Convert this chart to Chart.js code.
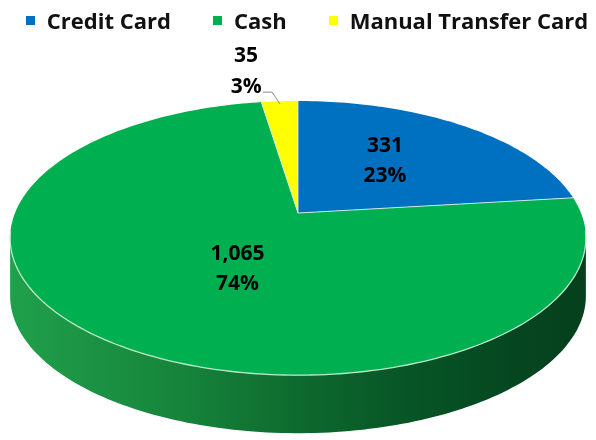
<!DOCTYPE html>
<html>
<head>
<meta charset="utf-8">
<script src="https://cdn.jsdelivr.net/npm/chart.js@4.4.1/dist/chart.umd.min.js"></script>
<style>
  body { margin: 0; background: #fff; }
  #wrap { position: relative; width: 596px; height: 440px; }
  #legend {
    position: absolute; top: 7px; left: 0; width: 596px; padding-left: 18px; box-sizing: border-box;
    display: flex; justify-content: center; gap: 42px;
    font: bold 22px "Open Sans", sans-serif; line-height: 26px; color: #111;
  }
  #legend .item { display: flex; align-items: center; white-space: nowrap; }
  #legend .box { width: 9px; height: 9px; margin-right: 12px; }
</style>
</head>
<body>
<div id="wrap">
  <canvas id="chart" width="596" height="440"></canvas>
  <div id="legend"></div>
</div>
<script>
const categories = ['Credit Card', 'Cash', 'Manual Transfer Card'];
const counts = [331, 1065, 35];
const pctLabels = ['23%', '74%', '3%'];
const sliceColors = ['#0070C0', '#00B050', '#FFFF00'];

// look of the tilted pie
const TILT = 0.183;   // perspective strength
const RX = 283;       // horizontal radius
const RY = 132.5;     // vertical radius
const DEPTH = 58;     // thickness of the side wall
const LABEL_FONT = 'bold 21px "Open Sans", sans-serif';
const LINE_GAP = 30;
// r = radial fraction for labels inside a slice, dx/dy a small nudge; outside = leader line
const labelPlacement = [
  { r: 0.53, dx: -6, dy: -3 },
  { r: 0.45, dx: 22, dy: 5 },
  { outside: true, r: 0.97 },
];

function rimPoint(cx, cy, a, r = 1) {
  const c = r * Math.cos(a), s = r * Math.sin(a);
  const d = 1 - TILT * s;
  return [cx + RX * c / d, cy + RY * s / d];
}

function tracePath(ctx, cx, cy, a0, a1, dy = 0, move = true) {
  const steps = Math.max(4, Math.ceil(Math.abs(a1 - a0) / 0.02));
  for (let i = 0; i <= steps; i++) {
    const [x, y] = rimPoint(cx, cy, a0 + (a1 - a0) * i / steps);
    if (i === 0 && move) ctx.moveTo(x, y + dy);
    else ctx.lineTo(x, y + dy);
  }
}

const pie3d = {
  id: 'pie3d',
  beforeDatasetsDraw(chart) {
    const ctx = chart.ctx;
    const arcs = chart.getDatasetMeta(0).data;
    const cx = arcs[0].x, cy = arcs[0].y;
    const frontFrom = Math.asin(TILT), frontTo = Math.PI - Math.asin(TILT);

    ctx.save();
    // side wall
    const grad = ctx.createLinearGradient(cx - RX * 1.02, 0, cx + RX * 1.02, 0);
    grad.addColorStop(0, '#20a04b');
    grad.addColorStop(0.3, '#16843b');
    grad.addColorStop(0.5, '#0e6a2e');
    grad.addColorStop(0.7, '#075426');
    grad.addColorStop(0.88, '#054620');
    grad.addColorStop(1, '#063f1c');
    arcs.forEach((arc, i) => {
      const lo = Math.max(arc.startAngle, frontFrom);
      const hi = Math.min(arc.endAngle, frontTo);
      if (lo >= hi) return;
      ctx.beginPath();
      tracePath(ctx, cx, cy, lo, hi, 0);
      tracePath(ctx, cx, cy, hi, lo, DEPTH, false);
      ctx.closePath();
      ctx.fillStyle = i === 1 ? grad : sliceColors[i];
      ctx.fill();
    });

    // top face
    arcs.forEach((arc, i) => {
      ctx.beginPath();
      ctx.moveTo(cx, cy);
      tracePath(ctx, cx, cy, arc.startAngle, arc.endAngle, 0, false);
      ctx.closePath();
      ctx.fillStyle = arc.options.backgroundColor;
      ctx.fill();
    });
    arcs.forEach(arc => {
      ctx.beginPath();
      ctx.moveTo(cx, cy);
      const [x, y] = rimPoint(cx, cy, arc.startAngle);
      ctx.lineTo(x, y);
      ctx.strokeStyle = 'rgba(225,240,245,0.85)';
      ctx.lineWidth = 1;
      ctx.stroke();
    });

    // light rim along the front edge
    ctx.beginPath();
    tracePath(ctx, cx, cy, frontFrom - 0.05, frontTo + 0.05, 0);
    ctx.strokeStyle = 'rgba(200,240,210,0.9)';
    ctx.lineWidth = 1.3;
    ctx.stroke();
    ctx.restore();
    return false;
  },
  afterDraw(chart) {
    const ctx = chart.ctx;
    const arcs = chart.getDatasetMeta(0).data;
    const cx = arcs[0].x, cy = arcs[0].y;
    ctx.save();
    ctx.font = LABEL_FONT;
    ctx.fillStyle = '#000';
    ctx.textAlign = 'center';
    ctx.textBaseline = 'middle';
    arcs.forEach((arc, i) => {
      const p = labelPlacement[i];
      const mid = (arc.startAngle + arc.endAngle) / 2;
      const valueText = counts[i].toLocaleString('en-US');
      if (!p.outside) {
        const [x, y] = rimPoint(cx, cy, mid, p.r);
        ctx.fillText(valueText, x + p.dx, y + p.dy - LINE_GAP / 2);
        ctx.fillText(pctLabels[i], x + p.dx, y + p.dy + LINE_GAP / 2);
      } else {
        const [x, y] = rimPoint(cx, cy, mid, p.r);
        const ex = x - 8, ey = y - 12;
        ctx.beginPath();
        ctx.moveTo(x, y);
        ctx.lineTo(ex, ey);
        ctx.lineTo(ex - 9, ey);
        ctx.strokeStyle = '#8c8c8c';
        ctx.lineWidth = 1;
        ctx.stroke();
        const tx = ex - 9 - 17;
        ctx.fillText(pctLabels[i], tx, ey - 5);
        ctx.fillText(valueText, tx, ey - 5 - LINE_GAP - 1);
      }
    });
    ctx.restore();
  }
};

new Chart(document.getElementById('chart'), {
  type: 'pie',
  data: {
    labels: categories,
    datasets: [{
      data: counts,
      backgroundColor: sliceColors,
      borderWidth: 0,
    }],
  },
  options: {
    responsive: false,
    animation: false,
    layout: { padding: { bottom: 14 } },
    plugins: {
      legend: { display: false },
      tooltip: { enabled: false },
    },
  },
  plugins: [pie3d],
});

const legend = document.getElementById('legend');
categories.forEach((name, i) => {
  legend.innerHTML += `<span class="item"><span class="box" style="background:${sliceColors[i]}"></span>${name}</span>`;
});
</script>
</body>
</html>
